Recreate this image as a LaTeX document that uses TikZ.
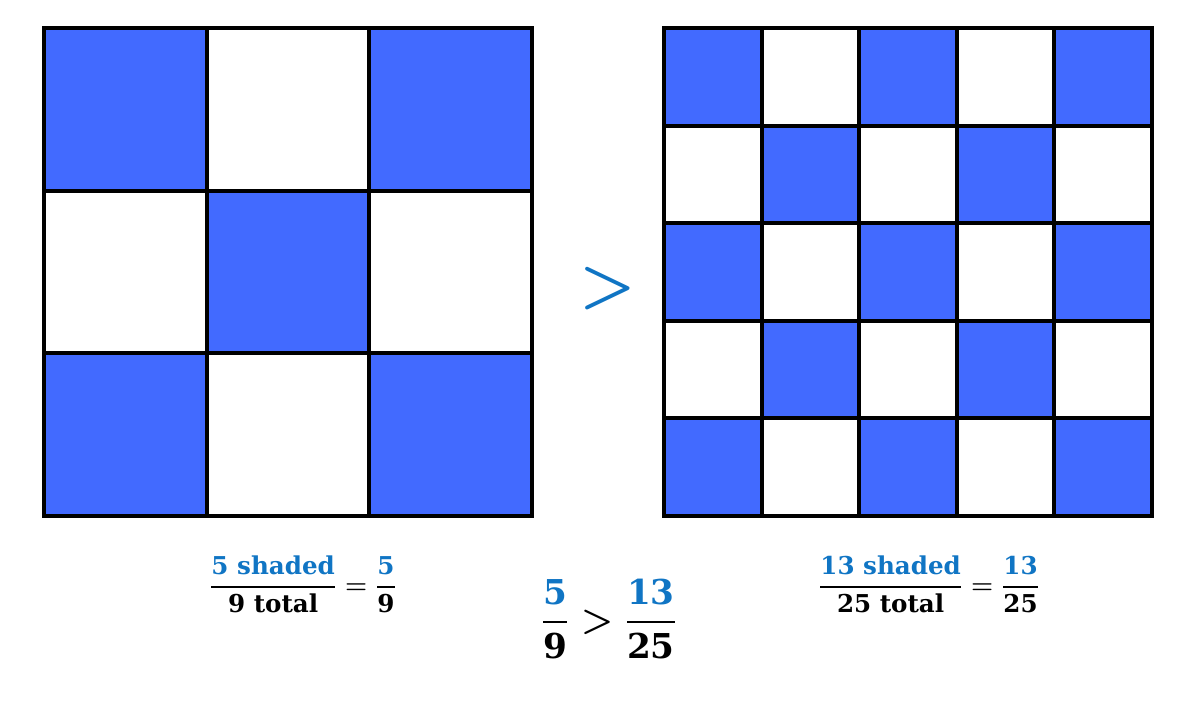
\documentclass[tikz,border=0pt]{standalone}
\usepackage{fontspec}
\usepackage{amsmath}
\setmainfont{DejaVu Serif}
\definecolor{cellblue}{RGB}{66,106,255}
\definecolor{fracblue}{RGB}{16,117,196}
\newcommand{\barfrac}[2]{\genfrac{}{}{1.1pt}{0}{#1}{#2}}

\begin{document}
\begin{tikzpicture}[x=0.02cm,y=-0.02cm]
                \tikzstyle{every node}+=[inner sep=0pt]
                \tikzstyle{cell}=[fill=cellblue]
                \tikzstyle{gridline}=[line width=2.2pt]
                \tikzstyle{small frac}=[font=\bfseries\boldmath\fontsize{14}{16}\selectfont]
                \tikzstyle{big frac}=[font=\bfseries\boldmath\fontsize{19.5}{22}\selectfont]
                \useasboundingbox (0,0) rectangle (1200,711);
                % left square, 3 by 3
                \foreach \i in {0,1,2}
                  \foreach \j in {0,1,2}
                    {\ifodd\numexpr\i+\j\relax\else
                       \fill[cell] ({44+\i*162.67},{28+\j*162.67}) rectangle +(162.67,162.67);
                     \fi}
                \foreach \k in {1,2}
                  {\draw[gridline] ({44+\k*162.67},28) -- +(0,488);
                   \draw[gridline] (44,{28+\k*162.67}) -- +(488,0);}
                \draw[gridline, line width=2.8pt] (44,28) rectangle (532,516);
                % right square, 5 by 5
                \foreach \i in {0,...,4}
                  \foreach \j in {0,...,4}
                    {\ifodd\numexpr\i+\j\relax\else
                       \fill[cell] ({664+\i*97.6},{28+\j*97.6}) rectangle +(97.6,97.6);
                     \fi}
                \foreach \k in {1,...,4}
                  {\draw[gridline] ({664+\k*97.6},28) -- +(0,488);
                   \draw[gridline] (664,{28+\k*97.6}) -- +(488,0);}
                \draw[gridline, line width=2.8pt] (664,28) rectangle (1152,516);
                
                \node[font=\boldmath\fontsize{24.88}{28}\selectfont, text=fracblue, scale=1.45] (gtsign) at (608,289) {$>$};
                
                \node[small frac] (leftfrac) at (303,584)
                  {$\barfrac{\textcolor{fracblue}{\text{5 shaded}}}{\text{9 total}} = \barfrac{\textcolor{fracblue}{\text{5}}}{\text{9}}$};
                \node[small frac] (rightfrac) at (929,584)
                  {$\barfrac{\textcolor{fracblue}{\text{13 shaded}}}{\text{25 total}} = \barfrac{\textcolor{fracblue}{\text{13}}}{\text{25}}$};
                \node[big frac] (midfrac) at (609,619)
                  {$\barfrac{\textcolor{fracblue}{\text{5}}}{\text{9}} > \barfrac{\textcolor{fracblue}{\text{13}}}{\text{25}}$};
\end{tikzpicture}
\end{document}
